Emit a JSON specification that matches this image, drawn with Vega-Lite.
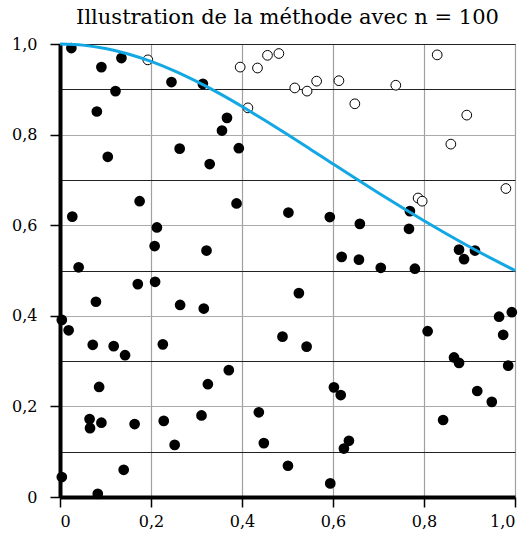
{
  "$schema": "https://vega.github.io/schema/vega-lite/v6.json",
  "width": 455,
  "height": 453,
  "autosize": {"type": "none"},
  "padding": {"left": 60, "top": 44, "right": 15, "bottom": 38},
  "background": "white",
  "config": {"view": {"stroke": "#222", "strokeWidth": 1}},
  "title": {"text": "Illustration de la méthode avec n = 100", "font": "DejaVu Serif", "fontSize": 21, "fontWeight": "normal", "color": "black", "anchor": "middle", "offset": 8},
  "datasets": {
    "points": [
      {"x": 0.193, "y": 0.965, "zone": "out"},
      {"x": 0.396, "y": 0.949, "zone": "out"},
      {"x": 0.434, "y": 0.947, "zone": "out"},
      {"x": 0.456, "y": 0.975, "zone": "out"},
      {"x": 0.481, "y": 0.979, "zone": "out"},
      {"x": 0.516, "y": 0.903, "zone": "out"},
      {"x": 0.543, "y": 0.896, "zone": "out"},
      {"x": 0.564, "y": 0.918, "zone": "out"},
      {"x": 0.613, "y": 0.919, "zone": "out"},
      {"x": 0.648, "y": 0.868, "zone": "out"},
      {"x": 0.413, "y": 0.859, "zone": "out"},
      {"x": 0.829, "y": 0.976, "zone": "out"},
      {"x": 0.738, "y": 0.909, "zone": "out"},
      {"x": 0.894, "y": 0.843, "zone": "out"},
      {"x": 0.859, "y": 0.779, "zone": "out"},
      {"x": 0.980, "y": 0.681, "zone": "out"},
      {"x": 0.787, "y": 0.660, "zone": "out"},
      {"x": 0.796, "y": 0.653, "zone": "out"},
      {"x": 0.025, "y": 0.991, "zone": "in"},
      {"x": 0.091, "y": 0.949, "zone": "in"},
      {"x": 0.135, "y": 0.969, "zone": "in"},
      {"x": 0.245, "y": 0.916, "zone": "in"},
      {"x": 0.314, "y": 0.912, "zone": "in"},
      {"x": 0.122, "y": 0.896, "zone": "in"},
      {"x": 0.081, "y": 0.851, "zone": "in"},
      {"x": 0.105, "y": 0.751, "zone": "in"},
      {"x": 0.263, "y": 0.769, "zone": "in"},
      {"x": 0.329, "y": 0.735, "zone": "in"},
      {"x": 0.175, "y": 0.653, "zone": "in"},
      {"x": 0.027, "y": 0.619, "zone": "in"},
      {"x": 0.213, "y": 0.595, "zone": "in"},
      {"x": 0.208, "y": 0.554, "zone": "in"},
      {"x": 0.322, "y": 0.544, "zone": "in"},
      {"x": 0.041, "y": 0.507, "zone": "in"},
      {"x": 0.367, "y": 0.837, "zone": "in"},
      {"x": 0.356, "y": 0.809, "zone": "in"},
      {"x": 0.393, "y": 0.770, "zone": "in"},
      {"x": 0.388, "y": 0.648, "zone": "in"},
      {"x": 0.502, "y": 0.628, "zone": "in"},
      {"x": 0.593, "y": 0.618, "zone": "in"},
      {"x": 0.659, "y": 0.603, "zone": "in"},
      {"x": 0.619, "y": 0.530, "zone": "in"},
      {"x": 0.657, "y": 0.524, "zone": "in"},
      {"x": 0.769, "y": 0.631, "zone": "in"},
      {"x": 0.767, "y": 0.592, "zone": "in"},
      {"x": 0.877, "y": 0.546, "zone": "in"},
      {"x": 0.912, "y": 0.544, "zone": "in"},
      {"x": 0.888, "y": 0.525, "zone": "in"},
      {"x": 0.705, "y": 0.506, "zone": "in"},
      {"x": 0.780, "y": 0.504, "zone": "in"},
      {"x": 0.965, "y": 0.398, "zone": "in"},
      {"x": 0.993, "y": 0.408, "zone": "in"},
      {"x": 0.808, "y": 0.366, "zone": "in"},
      {"x": 0.974, "y": 0.358, "zone": "in"},
      {"x": 0.866, "y": 0.308, "zone": "in"},
      {"x": 0.877, "y": 0.296, "zone": "in"},
      {"x": 0.985, "y": 0.290, "zone": "in"},
      {"x": 0.917, "y": 0.234, "zone": "in"},
      {"x": 0.949, "y": 0.210, "zone": "in"},
      {"x": 0.842, "y": 0.170, "zone": "in"},
      {"x": 0.525, "y": 0.450, "zone": "in"},
      {"x": 0.489, "y": 0.354, "zone": "in"},
      {"x": 0.542, "y": 0.332, "zone": "in"},
      {"x": 0.371, "y": 0.280, "zone": "in"},
      {"x": 0.325, "y": 0.249, "zone": "in"},
      {"x": 0.602, "y": 0.242, "zone": "in"},
      {"x": 0.617, "y": 0.225, "zone": "in"},
      {"x": 0.437, "y": 0.187, "zone": "in"},
      {"x": 0.448, "y": 0.119, "zone": "in"},
      {"x": 0.635, "y": 0.124, "zone": "in"},
      {"x": 0.624, "y": 0.107, "zone": "in"},
      {"x": 0.501, "y": 0.069, "zone": "in"},
      {"x": 0.594, "y": 0.030, "zone": "in"},
      {"x": 0.171, "y": 0.470, "zone": "in"},
      {"x": 0.209, "y": 0.475, "zone": "in"},
      {"x": 0.079, "y": 0.431, "zone": "in"},
      {"x": 0.264, "y": 0.424, "zone": "in"},
      {"x": 0.316, "y": 0.416, "zone": "in"},
      {"x": 0.004, "y": 0.391, "zone": "in"},
      {"x": 0.019, "y": 0.368, "zone": "in"},
      {"x": 0.072, "y": 0.336, "zone": "in"},
      {"x": 0.118, "y": 0.333, "zone": "in"},
      {"x": 0.143, "y": 0.313, "zone": "in"},
      {"x": 0.226, "y": 0.337, "zone": "in"},
      {"x": 0.086, "y": 0.243, "zone": "in"},
      {"x": 0.065, "y": 0.172, "zone": "in"},
      {"x": 0.066, "y": 0.152, "zone": "in"},
      {"x": 0.091, "y": 0.164, "zone": "in"},
      {"x": 0.164, "y": 0.161, "zone": "in"},
      {"x": 0.228, "y": 0.168, "zone": "in"},
      {"x": 0.311, "y": 0.180, "zone": "in"},
      {"x": 0.252, "y": 0.115, "zone": "in"},
      {"x": 0.004, "y": 0.044, "zone": "in"},
      {"x": 0.140, "y": 0.060, "zone": "in"},
      {"x": 0.083, "y": 0.007, "zone": "in"}
    ],
    "curve": [
      {"x": 0, "y": 1},
      {"x": 0.05, "y": 0.9975},
      {"x": 0.1, "y": 0.9901},
      {"x": 0.15, "y": 0.978},
      {"x": 0.2, "y": 0.9615},
      {"x": 0.25, "y": 0.9412},
      {"x": 0.3, "y": 0.9174},
      {"x": 0.35, "y": 0.8909},
      {"x": 0.4, "y": 0.8621},
      {"x": 0.45, "y": 0.8316},
      {"x": 0.5, "y": 0.8},
      {"x": 0.55, "y": 0.7678},
      {"x": 0.6, "y": 0.7353},
      {"x": 0.65, "y": 0.703},
      {"x": 0.7, "y": 0.6711},
      {"x": 0.75, "y": 0.64},
      {"x": 0.8, "y": 0.6098},
      {"x": 0.85, "y": 0.5806},
      {"x": 0.9, "y": 0.5525},
      {"x": 0.95, "y": 0.5256},
      {"x": 1, "y": 0.5}
    ]
  },
  "encoding": {
    "x": {
      "field": "x", "type": "quantitative",
      "scale": {"domain": [0, 1], "nice": false, "zero": false},
      "axis": {
        "title": null,
        "values": [0, 0.2, 0.4, 0.6, 0.8, 1],
        "labelExpr": "datum.value == 0 ? '0' : replace(format(datum.value, '.1f'), '.', ',')",
        "labelFont": "DejaVu Serif", "labelFontSize": 16, "labelColor": "black", "labelPadding": 6,
        "domainColor": "black", "domainWidth": 4,
        "tickColor": "black", "tickWidth": 1.5, "tickSize": 10,
        "grid": true, "gridColor": "#a0a0a0", "gridWidth": 1.2
      }
    },
    "y": {
      "field": "y", "type": "quantitative",
      "scale": {"domain": [0, 1], "nice": false, "zero": false},
      "axis": {
        "title": null,
        "values": [0, 0.1, 0.2, 0.3, 0.4, 0.5, 0.6, 0.7, 0.8, 0.9, 1],
        "labelExpr": "round(datum.value * 10) % 2 == 1 ? '' : (datum.value == 0 ? '0' : replace(format(datum.value, '.1f'), '.', ','))",
        "labelFont": "DejaVu Serif", "labelFontSize": 16, "labelColor": "black", "labelPadding": 13,
        "domainColor": "black", "domainWidth": 4,
        "tickColor": "black", "tickWidth": 1.5, "tickSize": 10,
        "tickOpacity": {"condition": {"test": "round(datum.value * 10) % 2 == 1", "value": 0}, "value": 1},
        "grid": true,
        "gridColor": {"condition": {"test": "round(datum.value * 10) % 2 == 1 || datum.value > 0.99", "value": "#222"}, "value": "#aaaaaa"},
        "gridWidth": 1.2
      }
    }
  },
  "layer": [
    {
      "data": {"name": "points"},
      "transform": [{"filter": "datum.zone == 'out'"}],
      "mark": {"type": "point", "shape": "circle", "filled": true, "fill": "white", "stroke": "black", "strokeWidth": 1, "size": 95, "opacity": 1}
    },
    {
      "data": {"name": "points"},
      "transform": [{"filter": "datum.zone == 'in'"}],
      "mark": {"type": "circle", "color": "black", "size": 115, "opacity": 1}
    },
    {
      "data": {"name": "curve"},
      "mark": {"type": "line", "color": "#13a8e3", "strokeWidth": 3, "interpolate": "monotone"}
    }
  ]
}
